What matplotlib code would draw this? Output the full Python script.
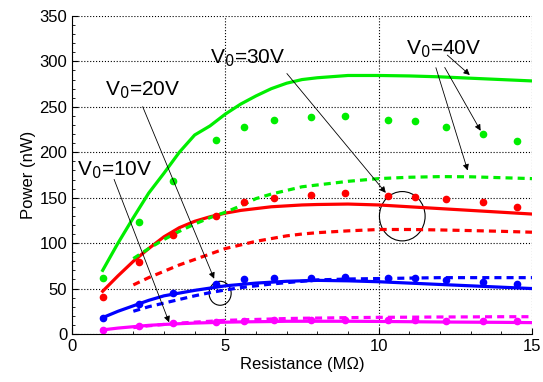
import numpy as np
import matplotlib.pyplot as plt
from matplotlib.patches import Ellipse
from matplotlib.ticker import MultipleLocator

plt.rcParams['font.family'] = ['Liberation Sans', 'DejaVu Sans']

# measured points (dots), shared x positions
r_dots = [1.0, 2.2, 3.3, 4.7, 5.6, 6.6, 7.8, 8.9, 10.3, 11.2, 12.2, 13.4, 14.5]
p40_dots = [62, 123, 168, 213, 228, 235, 239, 240, 236, 234, 228, 220, 212]
p30_dots = [41, 79, 109, 130, 145, 150, 153, 155, 152, 151, 149, 145, 140]
p20_dots = [18, 33, 45, 55, 60, 62, 62, 63, 62, 62, 59, 57, 55]
p10_dots = [4.5, 9, 12, 13.5, 14.5, 15, 15, 15, 15, 15, 14.5, 14, 14]

# solid model curves
r_solid = [1, 1.5, 2, 2.5, 3, 3.5, 4, 4.5, 5, 5.5, 6, 6.5, 7, 7.5, 8, 9, 10, 11, 12, 13, 14, 15]
p40_solid = [70, 100, 128, 155, 177, 200, 219, 229, 242, 253, 262, 270, 276, 280, 282, 284.5, 284.5,
             284, 283, 281.5, 280, 278.5]
p30_solid = [47, 64, 80, 94, 107, 117, 124, 129, 133, 136, 138, 140, 141, 142, 142.5, 143, 142,
             140, 138, 136, 134, 132]
p20_solid = [18, 25, 31, 37, 42, 45, 48, 50.5, 53, 54.5, 56, 57, 58, 58.5, 59, 58.5, 57.5,
             56, 54.5, 53, 51.5, 50]
p10_solid = [4.5, 6.5, 8, 9.5, 10.5, 11.3, 12, 12.5, 13, 13.3, 13.5, 13.7, 14, 14, 14, 14, 13.8,
             13.5, 13.2, 13, 12.8, 12.5]

# dashed model curves
r_dash = [2, 2.5, 3, 3.5, 4, 4.5, 5, 5.5, 6, 6.5, 7, 7.5, 8, 9, 10, 11, 12, 13, 14, 15]
p40_dash = [83, 94, 104, 113, 121, 128, 134, 141, 149, 154, 158, 162, 164, 168, 171, 172.5, 173.2,
            173, 172, 171]
p30_dash = [54, 62, 69, 76, 82, 88, 94, 98, 102, 105, 108, 110, 111.5, 113.5, 115, 115, 114.5,
            113.8, 113, 112]
p20_dash = [25, 30, 34, 38, 42, 45.5, 48.5, 51, 53, 55, 56.5, 58, 59.5, 60.5, 61, 61.5, 62, 62,
            62, 62]
p10_dash = [7, 9, 10.5, 12, 13, 14, 15, 15.5, 16, 16.5, 17, 17.3, 17.5, 18, 18.3, 18.5, 18.7,
            18.8, 19, 19]

GREEN = '#00ee00'
RED = '#ff0000'
BLUE = '#0000ff'
MAG = '#ff00ff'

fig = plt.figure(figsize=(5.43, 3.82), dpi=100)
ax = fig.add_axes([0.1326, 0.1257, 0.8471, 0.8325])

lw = 2.3
for ys, c in [(p40_solid, GREEN), (p30_solid, RED), (p20_solid, BLUE), (p10_solid, MAG)]:
    ax.plot(r_solid, ys, '-', color=c, lw=lw)
for ys, c in [(p40_dash, GREEN), (p30_dash, RED), (p20_dash, BLUE), (p10_dash, MAG)]:
    ax.plot(r_dash, ys, '--', color=c, lw=lw, dashes=(2.2, 1.6))
for ys, c in [(p40_dots, GREEN), (p30_dots, RED), (p20_dots, BLUE), (p10_dots, MAG)]:
    ax.plot(r_dots, ys, 'o', color=c, ms=4.5, mec=c)

ax.set_xlim(0, 15)
ax.set_ylim(0, 350)
ax.set_xticks([0, 5, 10, 15])
ax.set_yticks(np.arange(0, 351, 50))
ax.xaxis.set_minor_locator(MultipleLocator(1))
ax.yaxis.set_minor_locator(MultipleLocator(10))
ax.tick_params(which='both', direction='in', labelsize=12, top=False, right=False)
ax.tick_params(which='major', length=4)
ax.tick_params(which='minor', length=2)
ax.grid(True, linestyle=':', color='k', lw=0.8)
ax.spines['top'].set_visible(False)
ax.spines['right'].set_visible(False)
ax.set_axisbelow(True)
ax.set_xlabel('Resistance (M\u03a9)', fontsize=12, labelpad=2)
ax.set_ylabel('Power (nW)', fontsize=12, labelpad=2)

# annotations
akw = dict(arrowstyle='-|>', color='k', lw=0.6, mutation_scale=9)
fs = 15
ax.annotate('', xy=(3.2, 10), xytext=(1.34, 173), arrowprops=akw)
ax.text(0.15, 180, r'V$_0$=10V', fontsize=fs, va='center')
ax.annotate('', xy=(4.67, 58), xytext=(2.27, 253), arrowprops=akw)
ax.text(1.08, 268, r'V$_0$=20V', fontsize=fs, va='center')
ax.annotate('', xy=(10.29, 153), xytext=(6.95, 289), arrowprops=akw)
ax.text(4.5, 303, r'V$_0$=30V', fontsize=fs, va='center')
for tip, start in [((13.04, 283), (12.17, 309)), ((13.37, 221), (12.11, 296)),
                   ((12.93, 177), (11.84, 296))]:
    ax.annotate('', xy=tip, xytext=start, arrowprops=akw)
ax.text(10.9, 313, r'V$_0$=40V', fontsize=fs, va='center')

ax.add_patch(Ellipse((4.83, 44.8), 0.72, 26.4, fill=False, ec='k', lw=0.8))
ax.add_patch(Ellipse((10.77, 129.6), 1.49, 54.3, fill=False, ec='k', lw=0.8))

fig.savefig('out.png', dpi=100)
